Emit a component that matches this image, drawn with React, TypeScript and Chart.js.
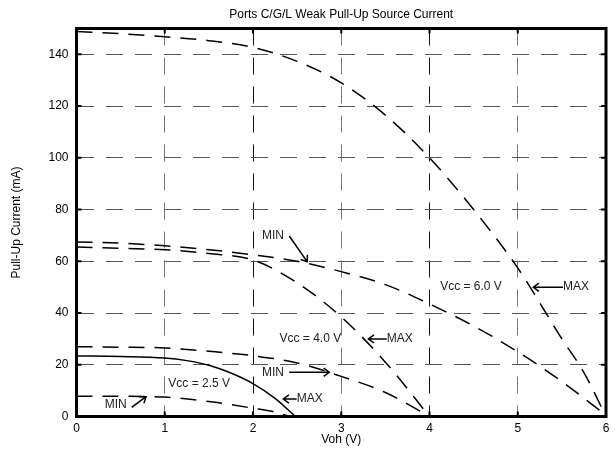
import React, { useEffect, useRef } from 'react';
import { Chart, registerables } from 'chart.js';

Chart.register(...registerables);

const chartTitle = 'Ports C/G/L Weak Pull-Up Source Current';
const xAxisTitle = 'Voh (V)';
const yAxisTitle = 'Pull-Up Current (mA)';

const xMin = 0;
const xMax = 6;
const yMin = 0;
const yMax = 150;
const yStep = 20;

const vcc60MaxV = [0, 0.5, 1, 1.5, 2, 2.5, 3, 3.5, 4, 4.5, 5, 5.5, 5.75, 6];
const vcc60MaxI = [148.8, 148, 146.8, 145.3, 142.7, 137.3, 129, 116.5, 100, 80, 57.4, 30, 17, 0];
const vcc60MinV = [0, 0.5, 1, 1.5, 2, 2.5, 3, 3.5, 4, 4.5, 5, 5.5, 6];
const vcc60MinI = [67.5, 67, 66, 64.5, 62.5, 60, 56, 51, 43.5, 35, 25, 13.5, 0.5];
const vcc40MaxV = [0, 0.5, 1, 1.5, 2, 2.5, 3, 3.5, 4];
const vcc40MaxI = [65.5, 65, 64.5, 63, 60.5, 51.7, 38.5, 21, 0];
const vcc40MinV = [0, 0.5, 1, 1.5, 2, 2.5, 3, 3.5, 4];
const vcc40MinI = [27, 26.8, 26.5, 25.2, 23.5, 20.7, 15.5, 9.3, 0];
const vcc25MaxV = [0, 0.5, 1, 1.25, 1.5, 1.75, 2, 2.25, 2.48];
const vcc25MaxI = [23.4, 23.2, 22.6, 21.6, 19.8, 16.8, 12.7, 7, 0];
const vcc25MinV = [0, 0.5, 1, 1.5, 2, 2.25, 2.42];
const vcc25MinI = [7.8, 7.8, 7.5, 5.8, 3.2, 1.7, 0];

const seriesNames = ['Vcc 6.0 MAX', 'Vcc 6.0 MIN', 'Vcc 4.0 MAX', 'Vcc 4.0 MIN', 'Vcc 2.5 MAX', 'Vcc 2.5 MIN'];
const seriesV = [vcc60MaxV, vcc60MinV, vcc40MaxV, vcc40MinV, vcc25MaxV, vcc25MinV];
const seriesI = [vcc60MaxI, vcc60MinI, vcc40MaxI, vcc40MinI, vcc25MaxI, vcc25MinI];
const seriesSolid = [false, false, false, false, true, false];

// Vcc labels (data coordinates)
const vccLabels = ['Vcc = 6.0 V', 'Vcc = 4.0 V', 'Vcc = 2.5 V'];
const vccLabelX = [4.47, 2.65, 1.39];
const vccLabelY = [50, 30, 12.6];

// MIN / MAX callouts (data coordinates)
const calloutText = ['MAX', 'MIN', 'MAX', 'MIN', 'MAX', 'MIN'];
const calloutTextX = [5.513, 2.227, 3.515, 2.227, 2.495, 0.445];
const calloutTextY = [50, 69.8, 30, 17.1, 6.76, 4.7];
const calloutAlign = ['left', 'center', 'left', 'center', 'left', 'center'];
const arrowFromX = [5.513, 2.411, 3.515, 2.411, 2.495, 0.625];
const arrowFromY = [50, 69.8, 30, 17.1, 6.76, 3.56];
const arrowToX = [5.176, 2.615, 3.307, 2.865, 2.343, 0.788];
const arrowToY = [50, 59.8, 30, 17.1, 6.76, 7.65];

const FONT = '"Liberation Sans", Arial, Helvetica, sans-serif';

const framePlugin = {
  id: 'framePlugin',
  afterDraw(chart: any) {
    const { ctx, chartArea, scales } = chart;
    const xs = scales.x;
    const ys = scales.y;
    const { left, right, top, bottom } = chartArea;
    ctx.save();
    // tick marks
    ctx.strokeStyle = '#000';
    ctx.lineWidth = 2;
    ctx.setLineDash([]);
    xs.ticks.forEach((t: any) => {
      const px = xs.getPixelForValue(t.value);
      ctx.beginPath();
      ctx.moveTo(px, bottom);
      ctx.lineTo(px, bottom - 5);
      ctx.moveTo(px, top);
      ctx.lineTo(px, top + 5);
      ctx.stroke();
    });
    ys.ticks.forEach((t: any) => {
      const py = ys.getPixelForValue(t.value);
      ctx.beginPath();
      ctx.moveTo(left, py);
      ctx.lineTo(left + 5, py);
      ctx.moveTo(right, py);
      ctx.lineTo(right - 5, py);
      ctx.stroke();
    });
    // frame
    ctx.lineWidth = 3;
    ctx.strokeRect(left, top, right - left, bottom - top);

    // title
    ctx.fillStyle = '#000';
    ctx.font = '12px ' + FONT;
    ctx.textAlign = 'center';
    ctx.textBaseline = 'middle';
    ctx.fillText(chartTitle, (left + right) / 2, top - 14);

    // Vcc labels
    ctx.fillStyle = '#222';
    vccLabels.forEach((txt, i) => {
      ctx.textAlign = 'center';
      ctx.fillText(txt, xs.getPixelForValue(vccLabelX[i]), ys.getPixelForValue(vccLabelY[i]));
    });

    // callouts
    calloutText.forEach((txt, i) => {
      ctx.fillStyle = '#222';
      ctx.textAlign = calloutAlign[i] as CanvasTextAlign;
      ctx.fillText(txt, xs.getPixelForValue(calloutTextX[i]), ys.getPixelForValue(calloutTextY[i]));
      const x1 = xs.getPixelForValue(arrowFromX[i]);
      const y1 = ys.getPixelForValue(arrowFromY[i]);
      const x2 = xs.getPixelForValue(arrowToX[i]);
      const y2 = ys.getPixelForValue(arrowToY[i]);
      const ang = Math.atan2(y2 - y1, x2 - x1);
      const hl = 7;
      const ha = Math.PI / 5;
      ctx.strokeStyle = '#000';
      ctx.lineWidth = 1.5;
      ctx.beginPath();
      ctx.moveTo(x1, y1);
      ctx.lineTo(x2, y2);
      ctx.moveTo(x2 - hl * Math.cos(ang - ha), y2 - hl * Math.sin(ang - ha));
      ctx.lineTo(x2, y2);
      ctx.lineTo(x2 - hl * Math.cos(ang + ha), y2 - hl * Math.sin(ang + ha));
      ctx.stroke();
    });
    ctx.restore();
  },
};

export default function App() {
  const canvasRef = useRef<HTMLCanvasElement | null>(null);

  useEffect(() => {
    if (!canvasRef.current) return;
    const datasets = seriesNames.map((name, i) => ({
      label: name,
      data: seriesV[i].map((v, k) => ({ x: v, y: seriesI[i][k] })),
      borderColor: '#000',
      backgroundColor: '#000',
      borderWidth: 1.5,
      borderDash: seriesSolid[i] ? [] : [16, 10],
      pointRadius: 0,
      fill: false,
      cubicInterpolationMode: 'monotone' as const,
    }));

    const chart = new Chart(canvasRef.current, {
      type: 'line',
      data: { datasets },
      options: {
        animation: false,
        responsive: false,
        maintainAspectRatio: false,
        layout: { padding: { top: 28.5, right: 9, left: 0, bottom: 0 } },
        plugins: {
          legend: { display: false },
          title: { display: false },
          tooltip: { enabled: false },
        },
        scales: {
          x: {
            type: 'linear',
            min: xMin,
            max: xMax,
            ticks: {
              stepSize: 1,
              color: '#000',
              padding: 5,
              font: { family: FONT, size: 12 },
            },
            grid: {
              drawTicks: false,
              lineWidth: 1,
              color: (c: any) => (c.tick && (c.tick.value === 2 || c.tick.value === 4) ? '#111' : '#777'),
            },
            border: { display: false, dash: [17, 12] },
            title: {
              display: true,
              text: xAxisTitle,
              color: '#000',
              font: { family: FONT, size: 12 },
              padding: { top: 0, bottom: 4.4 },
            },
            afterFit: (scale: any) => {
              scale.height = 34.5;
            },
          },
          y: {
            type: 'linear',
            min: yMin,
            max: yMax,
            afterBuildTicks: (scale: any) => {
              scale.ticks = scale.ticks.filter((t: any) => t.value % yStep === 0);
            },
            ticks: {
              stepSize: yStep,
              color: '#000',
              padding: 8,
              font: { family: FONT, size: 12 },
            },
            grid: {
              drawTicks: false,
              lineWidth: 1,
              color: '#555',
            },
            border: { display: false, dash: [17, 12] },
            title: {
              display: true,
              text: yAxisTitle,
              color: '#000',
              font: { family: FONT, size: 12 },
              padding: { top: 9, bottom: 0 },
            },
            afterFit: (scale: any) => {
              scale.width = 76.5;
            },
          },
        },
      },
      plugins: [framePlugin],
    });
    return () => chart.destroy();
  }, []);

  return (
    <div style={{ position: 'absolute', left: 0, top: 0, width: 615, height: 451, background: '#fff' }}>
      <canvas ref={canvasRef} width={615} height={451} />
    </div>
  );
}
